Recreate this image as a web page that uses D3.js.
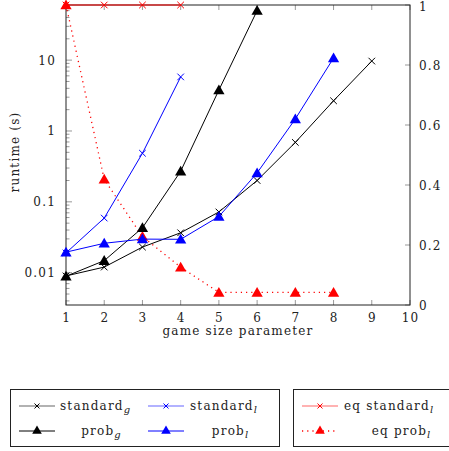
<!DOCTYPE html>
<html><head><meta charset="utf-8">
<script src="https://cdn.jsdelivr.net/npm/d3@7"></script>
<style>
body{margin:0;background:#fff;}
svg text{font-family:"DejaVu Serif",serif;fill:#222;letter-spacing:1.2px;}
</style></head>
<body><svg id="c" width="449" height="451"></svg>
<script>
// ---- data ----
const xTicks = [1,2,3,4,5,6,7,8,9,10];
const logTicks = [0.01, 0.1, 1, 10];
const logTickLabels = ["0.01", "0.1", "1", "10"];
const rightTicks = [0, 0.2, 0.4, 0.6, 0.8, 1];
const rightTickLabels = ["0", "0.2", "0.4", "0.6", "0.8", "1"];

const standardG_x = [1,2,3,4,5,6,7,8,9];
const standardG_y = [0.009, 0.012, 0.023, 0.0366, 0.072, 0.2, 0.69, 2.67, 9.7];
const probG_x = [1,2,3,4,5,6];
const probG_y = [0.0089, 0.0148, 0.043, 0.27, 3.78, 50];
const standardL_x = [1,2,3,4];
const standardL_y = [0.019, 0.059, 0.485, 5.8];
const probL_x = [1,2,3,4,5,6,7,8];
const probL_y = [0.0195, 0.026, 0.0298, 0.0296, 0.062, 0.256, 1.48, 10.7];
const eqStandardL_x = [1,2,3,4];
const eqStandardL_y = [1, 1, 1, 1];
const eqProbL_x = [1,2,3,4,5,6,7,8];
const eqProbL_y = [1, 0.419, 0.228, 0.126, 0.042, 0.042, 0.042, 0.042];

// ---- scales ----
const L = 66, R = 410, T = 5, B = 305;
const x = d3.scaleLinear().domain([1,10]).range([L,R]);
const yLog = d3.scaleLog().domain([0.0035, 60]).range([B,T]);
const yR = d3.scaleLinear().domain([0,1]).range([B,T]);

const svg = d3.select("#c");
const tickCol = "#999";
const FS = 12;

const g = svg.append("g");
xTicks.forEach(v=>{
  g.append("line").attr("x1",x(v)).attr("x2",x(v)).attr("y1",B).attr("y2",B-5).attr("stroke",tickCol);
  g.append("line").attr("x1",x(v)).attr("x2",x(v)).attr("y1",T).attr("y2",T+5).attr("stroke",tickCol);
  g.append("text").attr("x",x(v)+0.6).attr("y",322).attr("text-anchor","middle").attr("font-size",FS).text(v);
});
logTicks.forEach((v,i)=>{
  g.append("line").attr("x1",L).attr("x2",L+6).attr("y1",yLog(v)).attr("y2",yLog(v)).attr("stroke",tickCol);
  g.append("text").attr("x",56).attr("y",yLog(v)+4.5).attr("text-anchor","end").attr("font-size",FS).text(logTickLabels[i]);
});
const minor = [];
[0.001,0.01,0.1,1,10].forEach(d=>{for(let k=2;k<=9;k++){const m=d*k; if(m>=0.0035&&m<=60) minor.push(m);}});
minor.forEach(v=>{
  g.append("line").attr("x1",L).attr("x2",L+3.5).attr("y1",yLog(v)).attr("y2",yLog(v)).attr("stroke",tickCol);
});
rightTicks.forEach((v,i)=>{
  g.append("line").attr("x1",R).attr("x2",R-5).attr("y1",yR(v)).attr("y2",yR(v)).attr("stroke",tickCol);
  g.append("text").attr("x",419).attr("y",Math.max(yR(v)+4.5,11)).attr("text-anchor","start").attr("font-size",FS).text(rightTickLabels[i]);
});

svg.append("rect").attr("x",L).attr("y",T).attr("width",R-L).attr("height",B-T)
  .attr("fill","none").attr("stroke","#222").attr("stroke-width",1);

svg.append("text").attr("transform","translate(19,152) rotate(-90)").attr("text-anchor","middle")
  .attr("font-size",FS).text("runtime (s)");
svg.append("text").attr("x",238).attr("y",335).attr("text-anchor","middle").attr("font-size",FS).text("game size parameter");

const tri = d3.symbol(d3.symbolTriangle).size(55);
const cross = d3.symbol(d3.symbolTimes).size(30);

function series(xs, ys, yScale, color, marker, dash){
  const pts = xs.map((v,i)=>[x(v), yScale(ys[i])]);
  const p = svg.append("path").attr("d", d3.line()(pts)).attr("fill","none").attr("stroke",color).attr("stroke-width",1);
  if(dash) p.attr("stroke-dasharray",dash).attr("stroke-width",1.3);
  pts.forEach(q=>{
    if(marker==="tri") svg.append("path").attr("d",tri()).attr("transform",`translate(${q[0]},${q[1]+1})`).attr("fill",color);
    else svg.append("path").attr("d",cross()).attr("transform",`translate(${q[0]},${q[1]})`).attr("fill","none").attr("stroke",color).attr("stroke-width",1);
  });
}
series(eqProbL_x, eqProbL_y, yR, "#f00", "tri", "1.2,4");
series(standardG_x, standardG_y, yLog, "#000", "x");
series(probG_x, probG_y, yLog, "#000", "tri");
series(standardL_x, standardL_y, yLog, "#00f", "x");
series(probL_x, probL_y, yLog, "#00f", "tri");
series(eqStandardL_x, eqStandardL_y, yR, "#f00", "x");

const lg = svg.append("g");
lg.append("rect").attr("x",10.5).attr("y",389.5).attr("width",269).attr("height",57).attr("fill","none").attr("stroke","#222");
lg.append("rect").attr("x",293.5).attr("y",389.5).attr("width",170).attr("height",57).attr("fill","none").attr("stroke","#222");

function legItem(x0, y0, color, marker, dash, label, sub, tx, anchor, op){
  const l = lg.append("line").attr("x1",x0).attr("x2",x0+36).attr("y1",y0).attr("y2",y0).attr("stroke",color).attr("stroke-width",1).attr("opacity",op);
  if(dash) l.attr("stroke-dasharray","1.2,4").attr("stroke-width",1.3);
  if(marker==="tri") lg.append("path").attr("d",d3.symbol(d3.symbolTriangle).size(40)()).attr("transform",`translate(${x0+18},${y0})`).attr("fill",color);
  else lg.append("path").attr("d",d3.symbol(d3.symbolTimes).size(18)()).attr("transform",`translate(${x0+18},${y0})`).attr("fill","none").attr("stroke",color);
  const t = lg.append("text").attr("x",tx).attr("y",y0+4).attr("font-size",FS).attr("text-anchor",anchor);
  t.append("tspan").text(label);
  t.append("tspan").attr("dy",3).attr("font-size",10).attr("font-style","italic").style("letter-spacing","0px").text(sub);
}
legItem(19, 406, "#000", "x", false, "standard", "g", 60, "start", 0.6);
legItem(148, 406, "#00f", "x", false, "standard", "l", 190, "start", 0.6);
legItem(19, 431, "#000", "tri", false, "prob", "g", 101, "middle", 1);
legItem(148, 431, "#00f", "tri", false, "prob", "l", 230, "middle", 1);
legItem(302, 406, "#f00", "x", false, "eq standard", "l", 344, "start", 0.6);
legItem(302, 431, "#f00", "tri", true, "eq prob", "l", 401, "middle", 1);
</script></body></html>
